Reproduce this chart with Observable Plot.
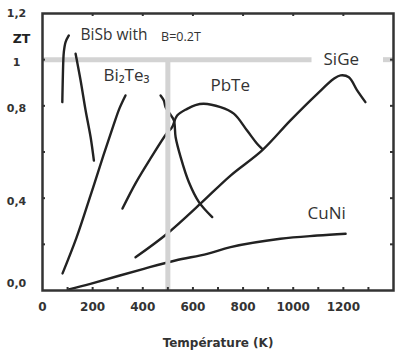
<!DOCTYPE html>
<html><head><meta charset="utf-8">
<script src="https://cdn.jsdelivr.net/npm/d3@7"></script>
<script src="https://cdn.jsdelivr.net/npm/@observablehq/plot@0.6"></script>
<style>body{margin:0;background:#fff}</style>
</head><body><div id="chart"></div>
<script>
// ---- data ----
const biSbRiseT  = [79, 83, 85, 92, 105];
const biSbRiseZT = [0.816, 0.996, 1.032, 1.076, 1.105];
const biSbFallT  = [132, 152, 172, 192, 205];
const biSbFallZT = [1.026, 0.91, 0.78, 0.664, 0.563];
const bi2Te3T  = [80, 136, 191, 243, 283, 307, 331];
const bi2Te3ZT = [0.074, 0.23, 0.41, 0.585, 0.715, 0.789, 0.845];
const dropT  = [471, 484, 491, 507, 524, 531, 551, 584, 624, 677];
const dropZT = [0.845, 0.823, 0.794, 0.767, 0.737, 0.664, 0.578, 0.469, 0.383, 0.318];
const pbTeT  = [319, 371, 431, 495, 517, 537, 577, 610, 643, 710, 763, 816, 856, 876];
const pbTeZT = [0.355, 0.464, 0.572, 0.68, 0.708, 0.758, 0.787, 0.803, 0.809, 0.794, 0.766, 0.693, 0.636, 0.614];
const siGeT  = [371, 497, 630, 750, 876, 989, 1096, 1162, 1189, 1222, 1255, 1288];
const siGeZT = [0.144, 0.246, 0.376, 0.498, 0.607, 0.737, 0.852, 0.917, 0.932, 0.924, 0.867, 0.816];
const cuNiT  = [105, 191, 404, 530, 657, 750, 949, 1096, 1209];
const cuNiZT = [0.005, 0.029, 0.094, 0.13, 0.159, 0.188, 0.224, 0.238, 0.246];

const xTickLabels = [0, 200, 400, 600, 800, 1000, 1200];
const xTicksBottom = [100, 200, 300, 400, 500, 600, 700, 800, 900, 1000, 1100, 1200, 1300];
const xTicksTop = [200, 400, 600, 800, 1000, 1200];
const yTicks = [0.2, 0.4, 0.6, 0.8, 1.0];
const yLabelTop = [1.2];
const yLabelMid = [1, 0.8, 0.4];
const yLabelZero = [0];

const refZT = 1;      // horizontal reference line
const refT = 500;     // vertical reference line

const bigLabelText = ["Bi₂Te₃", "PbTe", "SiGe", "CuNi"];
const bigLabelT    = [243, 670, 1121, 1057];
const bigLabelZT   = [0.932, 0.888, 1.0, 0.334];
const bisbText = ["BiSb with"];
const bisbT = [152];
const bisbZT = [1.105];
const fieldText = ["B=0.2T"];
const fieldT = [473];
const fieldZT = [1.1];

// ---- build ----
const series = [
  ["BiSb rise", biSbRiseT, biSbRiseZT],
  ["BiSb fall", biSbFallT, biSbFallZT],
  ["Bi2Te3", bi2Te3T, bi2Te3ZT],
  ["drop", dropT, dropZT],
  ["PbTe", pbTeT, pbTeZT],
  ["SiGe", siGeT, siGeZT],
  ["CuNi", cuNiT, cuNiZT]
];
const rows = series.flatMap(([name, T, Z]) => T.map((t, i) => ({series: name, T: t, ZT: Z[i]})));
const toLabels = (texts, Ts, Zs) => texts.map((t, i) => ({text: t, T: Ts[i], ZT: Zs[i]}));
const fmt = d => d === 1 ? "1" : d3.format(".1f")(d).replace(".", ",");

const W = 395, H = 355, ML = 42, MR = 2, MT = 13, MB = 65;
const plotW = W - ML - MR, plotH = H - MT - MB;
const gray = "#d3d3d3", ink = "#222", frameInk = "#333", txt = "#333";
const labelFont = "'Open Sans', sans-serif";
const tickFont = "'DejaVu Sans', sans-serif";

const chart = Plot.plot({
  width: W, height: H,
  marginLeft: ML, marginRight: MR, marginTop: MT, marginBottom: MB,
  x: {domain: [0, 1400]},
  y: {domain: [0, 1.2], axis: null},
  style: {background: "#fff", fontFamily: labelFont},
  marks: [
    Plot.ruleY([refZT], {x1: 0, x2: 1075, stroke: gray, strokeWidth: 5}),
    Plot.ruleY([refZT], {x1: 1360, x2: 1400, stroke: gray, strokeWidth: 5}),
    Plot.line(rows, {x: "T", y: "ZT", z: "series", curve: "catmull-rom", stroke: ink, strokeWidth: 2.4}),
    Plot.ruleX([refT], {y1: 0, y2: refZT, stroke: gray, strokeWidth: 5}),
    Plot.frame({stroke: frameInk, strokeWidth: 2.5}),
    Plot.tickX(xTicksBottom, {x: d => d, insetTop: plotH - 3, stroke: frameInk, strokeWidth: 2}),
    Plot.tickX(xTicksTop, {x: d => d, insetBottom: plotH - 3, stroke: frameInk, strokeWidth: 2}),
    Plot.tickY(yTicks, {y: d => d, insetRight: plotW - 3, stroke: frameInk, strokeWidth: 2}),
    Plot.tickY(yTicks, {y: d => d, insetLeft: plotW - 3, stroke: frameInk, strokeWidth: 2}),
    Plot.axisX({ticks: xTickLabels, tickSize: 0, tickPadding: 12, tickFormat: d => String(d),
      fontFamily: tickFont, fontWeight: "bold", fontSize: 12, fill: txt,
      label: "Température (K)", labelAnchor: "center", labelOffset: 56, labelArrow: "none"}),
    Plot.text(yLabelTop, {y: d => d, text: fmt, frameAnchor: "left", dx: -26, textAnchor: "middle",
      fontFamily: tickFont, fontWeight: "bold", fontSize: 11, fill: txt}),
    Plot.text(yLabelMid, {y: d => d, text: fmt, frameAnchor: "left", dx: -26, dy: 3, textAnchor: "middle",
      fontFamily: tickFont, fontWeight: "bold", fontSize: 11, fill: txt}),
    Plot.text(yLabelZero, {y: d => d, text: fmt, frameAnchor: "left", dx: -26, dy: -7, textAnchor: "middle",
      fontFamily: tickFont, fontWeight: "bold", fontSize: 11, fill: txt}),
    Plot.text(["ZT"], {frameAnchor: "top-left", dx: -21, dy: 21, text: d => d, textAnchor: "middle",
      fontFamily: tickFont, fontWeight: "bold", fontSize: 12.5, fill: "#222"}),
    Plot.text(toLabels(bigLabelText, bigLabelT, bigLabelZT), {x: "T", y: "ZT", text: "text", textAnchor: "start", fontSize: 17, fill: txt}),
    Plot.text(toLabels(bisbText, bisbT, bisbZT), {x: "T", y: "ZT", text: "text", textAnchor: "start", fontSize: 15.5, fill: txt}),
    Plot.text(toLabels(fieldText, fieldT, fieldZT), {x: "T", y: "ZT", text: "text", textAnchor: "start", fontSize: 12.5, fill: txt})
  ]
});
document.getElementById("chart").append(chart);
</script>
</body></html>
